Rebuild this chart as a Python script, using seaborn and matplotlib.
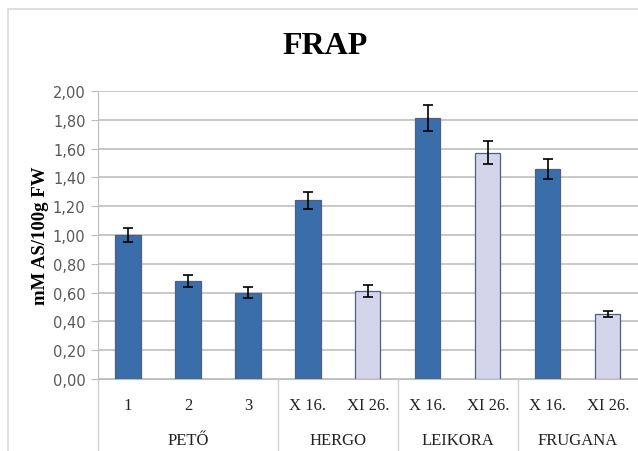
import pandas as pd
import matplotlib.pyplot as plt
import matplotlib.transforms as mtransforms
from matplotlib.lines import Line2D
import seaborn as sns

# Data
groups = ['PETŐ', 'PETŐ', 'PETŐ', 'HERGO', 'HERGO', 'LEIKORA', 'LEIKORA', 'FRUGANA', 'FRUGANA']
tick_labels = ['1', '2', '3', 'X 16.', 'XI 26.', 'X 16.', 'XI 26.', 'X 16.', 'XI 26.']
frap = [1.00, 0.68, 0.60, 1.24, 0.61, 1.81, 1.57, 1.46, 0.45]
frap_err = [0.05, 0.04, 0.04, 0.06, 0.04, 0.09, 0.08, 0.07, 0.02]
sampling = ['early', 'early', 'early', 'early', 'late', 'early', 'late', 'early', 'late']
group_names = ['PETŐ', 'HERGO', 'LEIKORA', 'FRUGANA']

df = pd.DataFrame({
    'key': [f'{g} {t}' for g, t in zip(groups, tick_labels)],
    'frap': frap,
    'sampling': sampling,
})

sns.set_style('white')
plt.rcParams['font.family'] = ['Liberation Serif', 'DejaVu Serif']

fig = plt.figure(figsize=(6.38, 4.52), dpi=100)
ax = fig.add_axes([98 / 638, 1 - 380 / 452, 541 / 638, 288 / 452])

sns.barplot(data=df, x='key', y='frap', hue='sampling', dodge=False, width=0.42,
            palette={'early': '#3A6EAA', 'late': '#D4D4EA'}, saturation=1, legend=False,
            edgecolor='#4f5f80', linewidth=0.9, ax=ax, zorder=3)
ax.errorbar(range(len(frap)), frap, yerr=frap_err, fmt='none', ecolor='black',
            elinewidth=1.2, capsize=3.5, capthick=1.2, zorder=4)

ax.set_ylim(0, 2.0)
ax.set_xlim(-0.5, 8.52)
yt = [i * 0.2 for i in range(11)]
ax.set_yticks(yt)
ax.set_yticklabels([f'{v:.2f}'.replace('.', ',') for v in yt],
                   family='DejaVu Sans', fontsize=10.5, color='#595959')
ax.yaxis.grid(True, color='#c8c8c8', linewidth=1.4, zorder=0)
ax.set_axisbelow(True)
ax.tick_params(axis='y', length=5, width=0.8, color='#bdbdbd', left=True, pad=4)

ax.set_xticks(range(len(tick_labels)))
ax.set_xticklabels(tick_labels, fontsize=12, color='#222222')
ax.tick_params(axis='x', length=0, pad=13)
ax.set_xlabel('')
ax.set_ylabel('mM AS/100g FW', fontsize=13.5, fontweight='bold', color='black', labelpad=3)

for s in ['top', 'right']:
    ax.spines[s].set_visible(False)
ax.spines['left'].set_color('#bdbdbd')
ax.spines['bottom'].set_color('#bdbdbd')

# group separators and labels below the axis
trans = mtransforms.blended_transform_factory(ax.transData, ax.transAxes)
for x in [-0.5, 2.5, 4.5, 6.5]:
    ax.plot([x, x], [0, -0.26], transform=trans, color='#d0d0d0', lw=1.0, clip_on=False)
for i, name in enumerate(group_names):
    idx = [j for j, g in enumerate(groups) if g == name]
    ax.text(sum(idx) / len(idx), -0.212, name, transform=trans, ha='center', va='center',
            fontsize=12, color='#222222')

fig.text(325 / 638, 1 - 47 / 452, 'FRAP', ha='center', va='center', fontsize=23,
         fontweight='bold', color='black')

# chart frame
fig.add_artist(Line2D([8 / 638, 8 / 638], [0, 1 - 10 / 452], color='#d9d9d9', lw=1.2))
fig.add_artist(Line2D([8 / 638, 1], [1 - 10 / 452, 1 - 10 / 452], color='#d9d9d9', lw=1.2))

fig.savefig('out.png', dpi=100)
